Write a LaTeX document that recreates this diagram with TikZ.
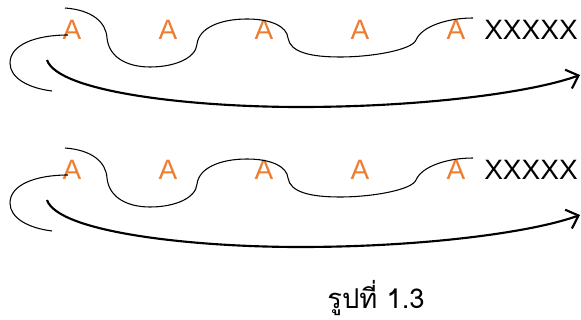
\documentclass[tikz,border=0pt]{standalone}
\usepackage{fontspec}
\setmainfont{Liberation Sans}
\newfontfamily\thaifont[Script=Thai]{Loma}
\usetikzlibrary{arrows.meta}
\definecolor{aorange}{HTML}{ED7D31}

\begin{document}
\begin{tikzpicture}[
    x=0.75pt, y=-0.75pt,
    letter/.style={text=aorange, font=\fontsize{21}{24}\selectfont, inner sep=0pt},
    tailtext/.style={font=\fontsize{21}{24}\selectfont, inner sep=0pt},
    wave/.style={line width=0.8pt},
    arr/.style={-{Straight Barb[length=8pt,width=15pt]}, line width=1.6pt}
]
    \useasboundingbox (0,0) rectangle (581,320);

    % Two identical rows
    \foreach \dy/\r in {0/t, 140/b} {
    \begin{scope}[shift={(0,\dy)}]
        \foreach \x [count=\i] in {72,168,264,360,456}
            \node[letter] (a\i\r) at (\x,30) {A};
        \node[tailtext] (xs\r) at (531,30) {XXXXX};

        % wavy line over the letters
        \draw[wave] (65,8) .. controls (92,10) and (106,22) .. (107,38)
            .. controls (109,58) and (128,67) .. (150,67)
            .. controls (175,67) and (196,58) .. (197,44)
            .. controls (199,28) and (220,19) .. (247,19)
            .. controls (272,19) and (287,27) .. (288,38)
            .. controls (290,52) and (310,57) .. (340,57)
            .. controls (372,57) and (412,50) .. (416,40)
            .. controls (422,26) and (448,18) .. (473,18);

        % loop at the left
        \draw[wave] (68,35) .. controls (35,35) and (10,45) .. (10,63)
            .. controls (10,78) and (28,88) .. (52,91);

        % long arrow
        \draw[arr] (47,60) .. controls (58,92) and (190,107) .. (300,107)
            .. controls (420,107) and (530,93) .. (580,75);
    \end{scope}
    }

    \node[font=\thaifont\fontsize{20.5}{23}\selectfont, anchor=base] (caption) at (376,308) {รูปที่ 1.3};
\end{tikzpicture}
\end{document}
